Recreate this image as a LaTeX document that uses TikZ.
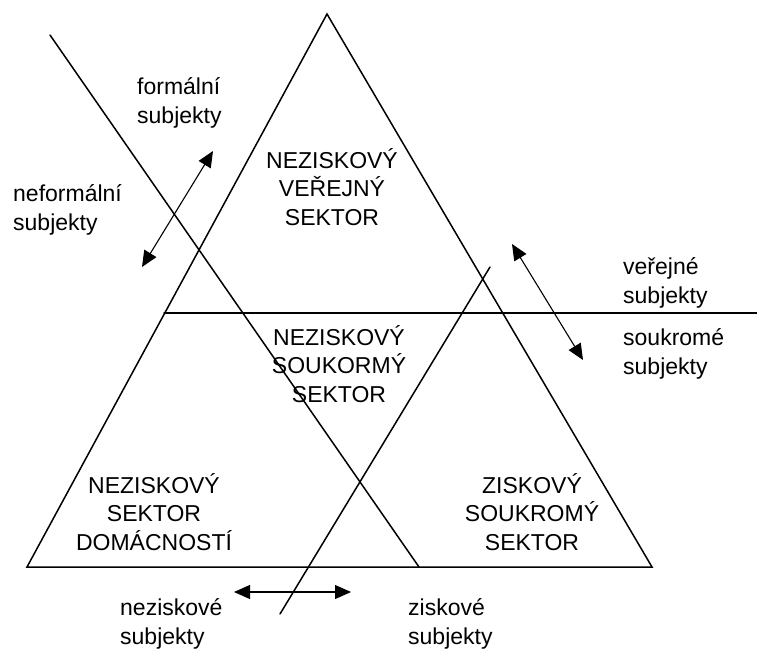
\documentclass[tikz,border=0pt]{standalone}
\usepackage{fontspec}
\setmainfont{Liberation Sans}
\usetikzlibrary{arrows.meta}
\tikzset{
  edge/.style={line width=1.5pt, line cap=round},
  dbl/.style={line width=1.1pt, {Triangle[length=16pt,width=14pt]}-{Triangle[length=16pt,width=14pt]}},
  lbl/.style={inner sep=0pt, align=left, font=\fontsize{23}{29}\selectfont},
  sect/.style={inner sep=0pt, align=center, font=\fontsize{23}{28.5}\selectfont},
}
\begin{document}
\begin{tikzpicture}[x=1pt,y=-1pt]
\useasboundingbox[fill=white] (0,0) rectangle (757,648);
% triangle
\coordinate (apex) at (327,14);
\coordinate (bl) at (27,567);
\coordinate (br) at (652,567);
\draw[edge] (apex) -- (br) -- (bl) -- cycle;
% horizontal divider
\coordinate (hL) at (164,313);
\coordinate (hR) at (757,313);
\draw[edge] (hL) -- (hR);
% diagonal lines
\coordinate (d1a) at (50,35);
\coordinate (d1b) at (419,567);
\draw[edge] (d1a) -- (d1b);
\coordinate (d2a) at (490,267);
\coordinate (d2b) at (280,614);
\draw[edge] (d2a) -- (d2b);
% double arrows
\coordinate (a1a) at (142,267);
\coordinate (a1b) at (213,151);
\draw[dbl] (a1a) -- (a1b);
\coordinate (a2a) at (512,244);
\coordinate (a2b) at (583,360);
\draw[dbl] (a2a) -- (a2b);
\coordinate (a3a) at (234,592);
\coordinate (a3b) at (351,592);
\draw[dbl] (a3a) -- (a3b);
% sector labels
\node[sect] (s1) at (332,187) {NEZISKOVÝ\\VEŘEJNÝ\\SEKTOR};
\node[sect] (s2) at (339,364) {NEZISKOVÝ\\SOUKORMÝ\\SEKTOR};
\node[sect] (s3) at (154,512) {NEZISKOVÝ\\SEKTOR\\DOMÁCNOSTÍ};
\node[sect] (s4) at (532,512) {ZISKOVÝ\\SOUKROMÝ\\SEKTOR};
% side labels
\node[lbl, anchor=west] (l1) at (137,103) {formální\\subjekty};
\node[lbl, anchor=west] (l2) at (13,210) {neformální\\subjekty};
\node[lbl, anchor=west] (l3) at (623,283) {veřejné\\subjekty};
\node[lbl, anchor=west] (l4) at (623,354) {soukromé\\subjekty};
\node[lbl, anchor=west] (l5) at (120,624) {neziskové\\subjekty};
\node[lbl, anchor=west] (l6) at (408,624) {ziskové\\subjekty};
\end{tikzpicture}
\end{document}
